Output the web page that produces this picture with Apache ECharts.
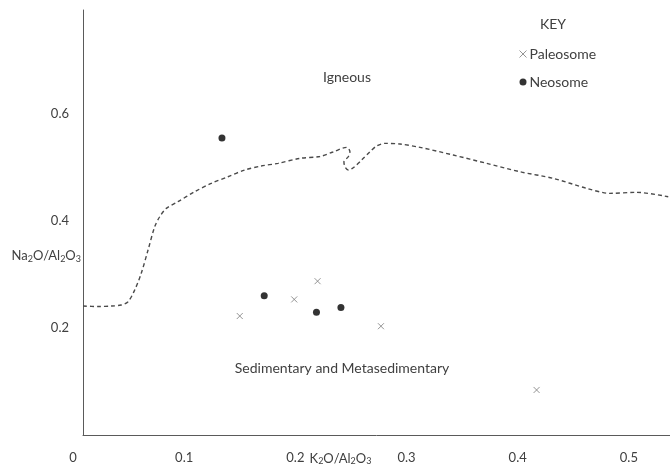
<!DOCTYPE html>
<html>
<head>
<meta charset="utf-8">
<script src="https://cdn.jsdelivr.net/npm/echarts@6/dist/echarts.min.js"></script>
<style>
  html, body { margin: 0; padding: 0; background: #fff; }
  #chart { width: 670px; height: 468px; }
</style>
</head>
<body>
<div id="chart"></div>
<script>
// K2O/Al2O3 vs Na2O/Al2O3 discrimination plot
const paleosomeX = [0.141, 0.190, 0.211, 0.268, 0.408]
const paleosomeY = [0.222, 0.253, 0.287, 0.203, 0.084]

const neosomeX = [0.125, 0.163, 0.210, 0.232]
const neosomeY = [0.554, 0.260, 0.229, 0.238]

// dashed igneous / sedimentary boundary, traced left to right
const boundaryX = [0, 0.0135, 0.0261, 0.0342, 0.0405, 0.0465, 0.0524, 0.0585, 0.0645, 0.069,
  0.0749, 0.0854, 0.1004, 0.1154, 0.1304, 0.1454, 0.1603, 0.1754, 0.1951, 0.2131,
  0.2248, 0.2371, 0.2401, 0.2386, 0.2347, 0.2356, 0.2386, 0.2431, 0.2506, 0.2581,
  0.2641, 0.2716, 0.2851, 0.3031, 0.333, 0.363, 0.393, 0.4229, 0.453, 0.4739,
  0.4979, 0.5264]
const boundaryY = [0.2407, 0.2397, 0.2407, 0.2425, 0.2487, 0.2705, 0.3017, 0.3451, 0.3886, 0.4073,
  0.4229, 0.4353, 0.4539, 0.4696, 0.4819, 0.4944, 0.5019, 0.5069, 0.5162, 0.5196,
  0.528, 0.5367, 0.5285, 0.5192, 0.5099, 0.5006, 0.4944, 0.4987, 0.5131, 0.5285,
  0.5392, 0.5442, 0.5429, 0.5367, 0.5224, 0.5069, 0.4912, 0.4789, 0.4603, 0.4509,
  0.4528, 0.4446]

const regionLabels = ['Igneous', 'Sedimentary and Metasedimentary']

const FONT = 'Lato, "Open Sans", sans-serif'
const TEXT = '#404040'
const AXIS = '#5a5a5a'
const CROSS = 'path://M0,0L10,10M10,0L0,10'

const zip = (xs, ys) => xs.map((x, i) => [x, ys[i]])

const sub = { fontSize: 9, fontFamily: FONT, color: TEXT, verticalAlign: 'bottom', padding: [6, 0, 0, 0] }
const main = { fontSize: 13, fontFamily: FONT, color: TEXT }

const chart = echarts.init(document.getElementById('chart'))

chart.setOption({
  backgroundColor: '#fff',
  animation: false,
  textStyle: { fontFamily: FONT },
  grid: { left: 83, right: 0, top: 10, bottom: 33, containLabel: false, outerBoundsMode: 'none' },
  legend: {
    orient: 'vertical',
    left: 514,
    top: 42,
    itemWidth: 7,
    itemHeight: 7,
    itemGap: 14,
    textStyle: { fontSize: 14, color: TEXT, fontFamily: FONT, padding: [0, 0, 0, -2] },
    data: [
      { name: 'Paleosome', icon: CROSS, itemStyle: { color: 'transparent', borderColor: '#7a7a7a', borderWidth: 1 } },
      { name: 'Neosome', icon: 'circle', itemStyle: { color: '#000' } }
    ]
  },
  graphic: [
    { type: 'text', x: 553, y: 24, style: { text: 'KEY', font: '14px ' + FONT, fill: TEXT, align: 'center', verticalAlign: 'middle' } },
    { type: 'text', x: 347, y: 77, style: { text: regionLabels[0], font: '14px ' + FONT, fill: TEXT, align: 'center', verticalAlign: 'middle' } },
    { type: 'text', x: 342, y: 368, style: { text: regionLabels[1], font: '14px ' + FONT, fill: TEXT, align: 'center', verticalAlign: 'middle' } }
  ],
  xAxis: {
    type: 'value',
    min: 0,
    max: 0.528,
    interval: 0.1,
    name: '{m|K}{s|2}{m|O/Al}{s|2}{m|O}{s|3}',
    nameLocation: 'middle',
    nameGap: 16,
    nameMoveOverlap: false,
    nameTextStyle: { padding: [0, 72, 0, 0], rich: { m: main, s: sub } },
    axisLine: { show: true, lineStyle: { color: AXIS, width: 1 } },
    axisTick: { show: false },
    splitLine: { show: false },
    axisLabel: {
      margin: 16,
      showMaxLabel: false,
      color: TEXT,
      fontSize: 13,
      fontFamily: FONT,
      padding: [0, 20, 0, 0],
      formatter: (v) => (Math.abs(v * 10 - Math.round(v * 10)) < 1e-6 ? (v === 0 ? '0' : v.toFixed(1)) : '')
    }
  },
  yAxis: {
    type: 'value',
    min: 0,
    max: 0.793,
    interval: 0.2,
    name: '{m|Na}{s|2}{m|O/Al}{s|2}{m|O}{s|3}',
    nameLocation: 'middle',
    nameRotate: 0,
    nameGap: 2,
    nameMoveOverlap: false,
    nameTextStyle: { padding: [67, 0, 0, 0], rich: { m: main, s: sub } },
    axisLine: { show: true, lineStyle: { color: AXIS, width: 1 } },
    axisTick: { show: false },
    splitLine: { show: false },
    axisLabel: {
      margin: 14,
      showMinLabel: false,
      showMaxLabel: false,
      color: TEXT,
      fontSize: 13,
      fontFamily: FONT,
      formatter: (v) => v.toFixed(1)
    }
  },
  series: [
    {
      name: 'boundary',
      type: 'line',
      data: zip(boundaryX, boundaryY),
      smooth: 0.3,
      symbol: 'none',
      silent: true,
      lineStyle: { color: '#4a4a4a', width: 1.4, type: [4, 3] },
      z: 1
    },
    {
      name: 'Paleosome',
      type: 'scatter',
      data: zip(paleosomeX, paleosomeY),
      symbol: CROSS,
      symbolSize: 6,
      itemStyle: { color: 'transparent', borderColor: '#7a7a7a', borderWidth: 1 },
      z: 3
    },
    {
      name: 'Neosome',
      type: 'scatter',
      data: zip(neosomeX, neosomeY),
      symbol: 'circle',
      symbolSize: 7,
      itemStyle: { color: '#000' },
      z: 3
    }
  ]
})
</script>
</body>
</html>
